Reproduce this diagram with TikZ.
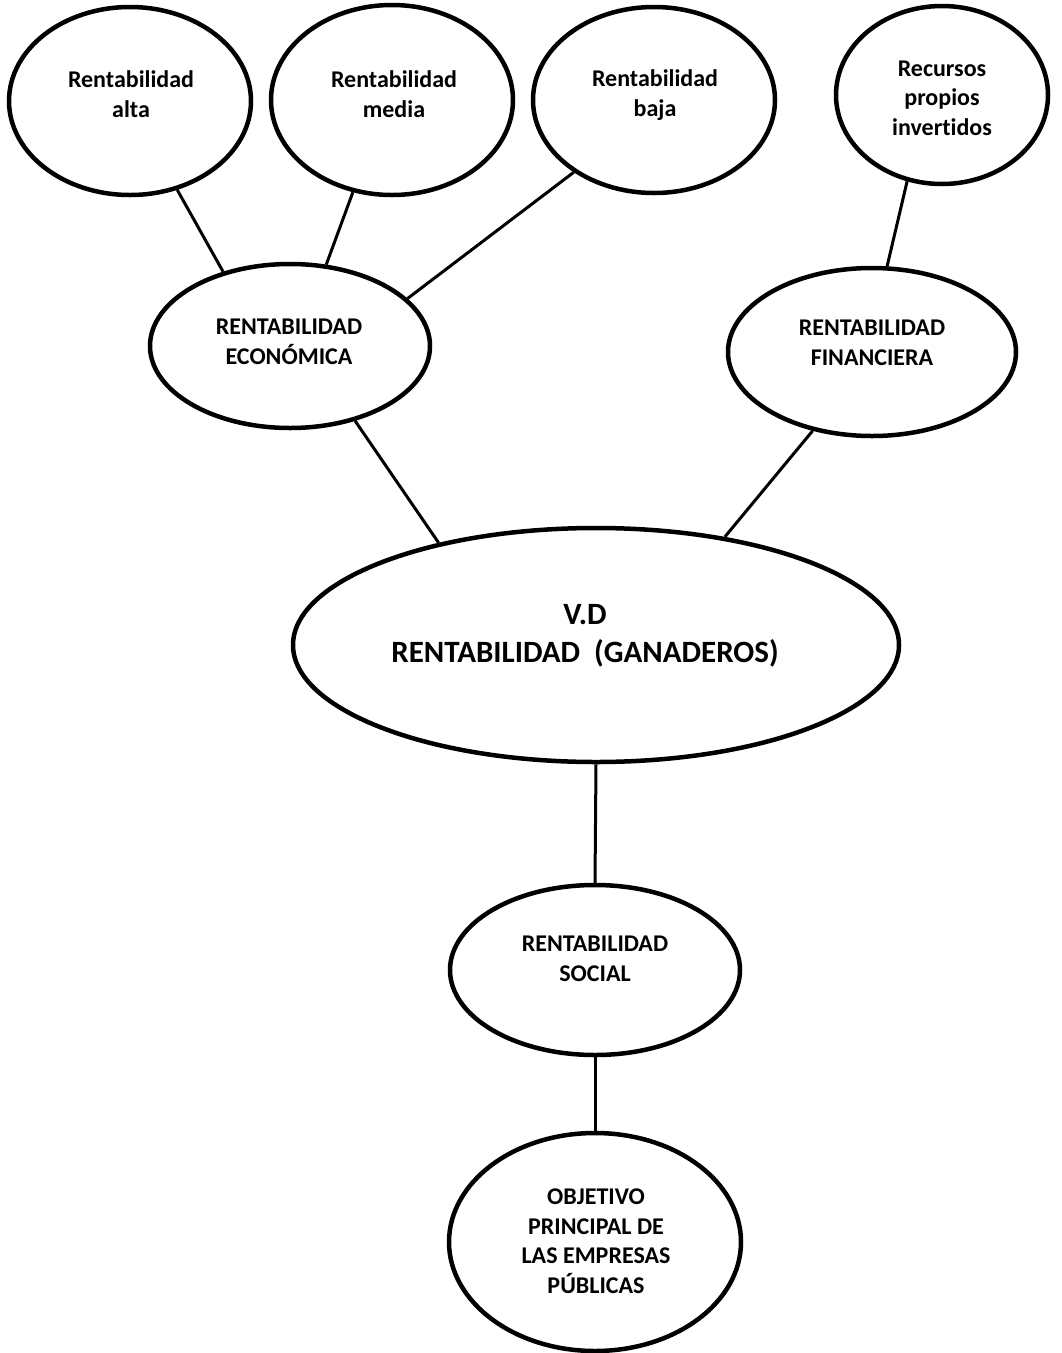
\documentclass[tikz,border=0pt]{standalone}
\usepackage{fontspec}
\setmainfont[Ligatures={NoCommon}]{Carlito}
\usetikzlibrary{shapes.geometric}
\begin{document}
\begin{tikzpicture}[x=1pt,y=-1pt,
  oval/.style={ellipse, draw=black, line width=4.5pt, fill=white, inner sep=0pt},
  lbl/.style={align=center, font=\fontsize{24}{29.5}\selectfont\bfseries, inner sep=0pt},
  biglbl/.style={align=center, font=\fontsize{31}{38}\selectfont\bfseries, inner sep=0pt},
  link/.style={line width=3pt}]
\useasboundingbox[fill=white] (0,0) rectangle (1061,1353);

% top row: the three levels of economic return and own resources
\node[oval, minimum width=242pt, minimum height=188pt] (alta) at (130,101) {};
\node[oval, minimum width=242pt, minimum height=190pt] (media) at (392,100) {};
\node[oval, minimum width=242pt, minimum height=186pt] (baja) at (654,100) {};
\node[oval, minimum width=212pt, minimum height=178pt] (recursos) at (942,95) {};

% middle row
\node[oval, minimum width=280pt, minimum height=164pt] (eco) at (290,346) {};
\node[oval, minimum width=288pt, minimum height=168pt] (fin) at (872,352) {};

% dependent variable
\node[oval, minimum width=606pt, minimum height=234pt] (vd) at (596,645) {};

% bottom chain
\node[oval, minimum width=290pt, minimum height=170pt] (social) at (595,970) {};
\node[oval, minimum width=292pt, minimum height=218pt] (objetivo) at (595,1242) {};

% labels
\node[lbl] (alta-t) at (131,94) {Rentabilidad\\alta};
\node[lbl] (media-t) at (394,94) {Rentabilidad\\media};
\node[lbl] (baja-t) at (655,95) {Rentabilidad\\baja};
\node[lbl] (recursos-t) at (942,98) {Recursos\\propios\\invertidos};
\node[lbl] (eco-t) at (289,342) {RENTABILIDAD\\ECONÓMICA};
\node[lbl] (fin-t) at (872,343) {RENTABILIDAD\\FINANCIERA};
\node[biglbl] (vd-t) at (585,636) {V.D\\RENTABILIDAD\ \ (GANADEROS)};
\node[lbl] (social-t) at (595,959) {RENTABILIDAD\\SOCIAL};
\node[lbl] (objetivo-t) at (596,1241) {OBJETIVO\\PRINCIPAL DE\\LAS EMPRESAS\\PÚBLICAS};

% connectors
\draw[link] (alta.-62) -- (eco.132);
\draw[link] (media.-113) -- (eco.66);
\draw[link] (baja.-138) -- (eco.22);
\draw[link] (recursos.-112) -- (fin.80);
\draw[link] (eco.-49) -- (vd.147);
\draw[link] (fin.-127) -- (vd.40);
\draw[link] (vd.south) -- (social.north);
\draw[link] (social.south) -- (objetivo.north);
\end{tikzpicture}
\end{document}
